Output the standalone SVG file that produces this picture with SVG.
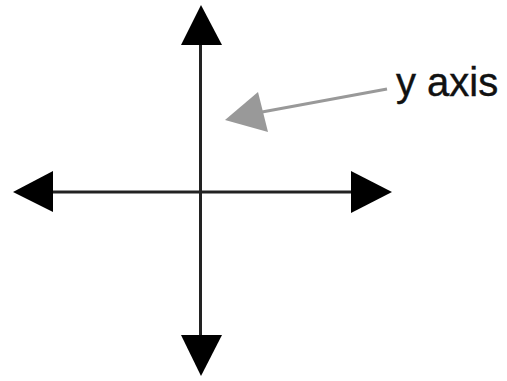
<svg xmlns="http://www.w3.org/2000/svg" width="507" height="381" viewBox="0 0 507 381">
<style>
.ax{stroke:#222;stroke-width:3;fill:none}
.hd{fill:#000}
.lbl{font-family:"Liberation Sans",Arial,sans-serif;font-size:40px;fill:#111;stroke:#111;stroke-width:0.4}
</style>
<rect width="507" height="381" fill="#fff"/>
<g id="connectors">
<line class="ax" x1="200.5" y1="40" x2="200.5" y2="340"/>
<line class="ax" x1="50" y1="192" x2="355" y2="192"/>
<line x1="262" y1="112" x2="387" y2="89" stroke="#999" stroke-width="3"/>
</g>
<g id="arrowheads">
<polygon class="hd" points="201,5 181,45 222,45"/>
<polygon class="hd" points="201,376 181,335 222,335"/>
<polygon class="hd" points="13,192 53,171 53,212"/>
<polygon class="hd" points="392,192 351,171 351,213"/>
<polygon fill="#999" points="225,120 258,92 268,132"/>
</g>
<g id="label">
<text class="lbl" x="396" y="96">y axis</text>
</g>
</svg>
